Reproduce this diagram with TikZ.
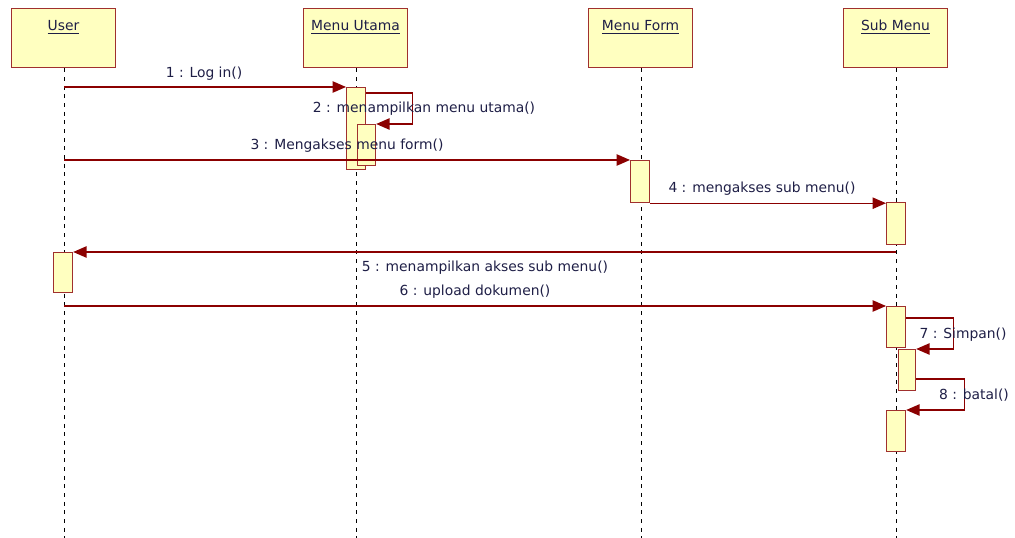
\documentclass[tikz,border=0pt]{standalone}
\usepackage{fontspec}
\setmainfont{DejaVu Sans}
\usetikzlibrary{arrows.meta}
\definecolor{boxf}{HTML}{FFFFC0}
\definecolor{boxc}{HTML}{A0302E}
\definecolor{msgc}{HTML}{8B0000}
\definecolor{txtc}{HTML}{1E1E46}
\tikzset{
  hdr/.style={draw=boxc, fill=boxf, line width=1.1pt, anchor=north, minimum width=78pt,
    inner xsep=0pt, inner ysep=0pt, text height=16.5pt, text depth=27.75pt,
    font=\fontsize{10.4pt}{12pt}\selectfont, text=txtc},
  act/.style={draw=boxc, fill=boxf, line width=0.9pt, inner sep=0pt, anchor=north west,
    minimum width=14.25pt},
  life/.style={black, line width=0.7pt, dash pattern=on 3pt off 3.5pt},
  msg/.style={msgc, line width=0.9pt, -{Triangle[length=10pt,width=8.5pt]}},
  lbl/.style={font=\fontsize{10.4pt}{12pt}\selectfont, text=txtc, inner sep=0pt}
}
\begin{document}
\begin{tikzpicture}[x=0.75pt,y=-0.75pt]
\useasboundingbox (0,0) rectangle (1015,538);
% headers
\node[hdr] (user) at (63.5,8) {\underline{User}};
\node[hdr] (utama) at (355.5,8) {\underline{Menu Utama}};
\node[hdr] (form) at (640.5,8) {\underline{Menu Form}};
\node[hdr] (sub) at (895.5,8) {\underline{Sub Menu}};
% lifeline ends
\coordinate (userEnd) at (64,538);
\coordinate (utamaEnd) at (356,538);
\coordinate (formEnd) at (641,538);
\coordinate (subEnd) at (896,538);
\draw[life] (user.south) ++(0.5,0) -- (userEnd);
\draw[life] (utama.south) ++(0.5,0) -- (utamaEnd);
\draw[life] (form.south) ++(0.5,0) -- (formEnd);
\draw[life] (sub.south) ++(0.5,0) -- (subEnd);
% activations
\node[act, minimum height=61.5pt] (a1) at (346,87) {};
\node[act, minimum width=13.5pt, minimum height=30.75pt] (a2) at (357,124) {};
\node[act, minimum height=31.5pt] (a3) at (630,160) {};
\node[act, minimum height=31.5pt] (a4) at (886,202) {};
\node[act, minimum height=30pt] (a5) at (53,252) {};
\node[act, minimum height=30.75pt] (a6) at (886,306) {};
\node[act, minimum width=12.75pt, minimum height=30.75pt] (a7) at (898,349) {};
\node[act, minimum height=30.75pt] (a8) at (886,410) {};
% messages
\draw[msg] (userEnd |- a1.north west) -- (a1.north west);
\draw[msg] ([yshift=-4.5pt]a1.north east) -- ++(34.5pt,0) coordinate (s2) |- (a2.north east);
\draw[msg] (userEnd |- a3.north west) -- (a3.north west);
\draw[msg] (a3.south east) -- (a3.south east -| a4.north west);
\draw[msg] (subEnd |- a5.north east) -- (a5.north east);
\draw[msg] (userEnd |- a6.north west) -- (a6.north west);
\draw[msg] ([yshift=-9pt]a6.north east) -- ++(35.25pt,0) coordinate (s7) |- (a7.north east);
\draw[msg] ([yshift=-22.5pt]a7.north east) -- ++(36pt,0) coordinate (s8) |- (a8.north east);
% labels
\node[lbl] (l1) at (204,74) {1 : Log in()};
\node[lbl] (l2) at (424,109) {2 : menampilkan menu utama()};
\node[lbl] (l3) at (347,146) {3 : Mengakses menu form()};
\node[lbl] (l4) at (762,189) {4 : mengakses sub menu()};
\node[lbl] (l5) at (485,268) {5 : menampilkan akses sub menu()};
\node[lbl] (l6) at (475,292) {6 : upload dokumen()};
\node[lbl] (l7) at (963,335) {7 : Simpan()};
\node[lbl] (l8) at (974,395) {8 : batal()};
\end{tikzpicture}
\end{document}
